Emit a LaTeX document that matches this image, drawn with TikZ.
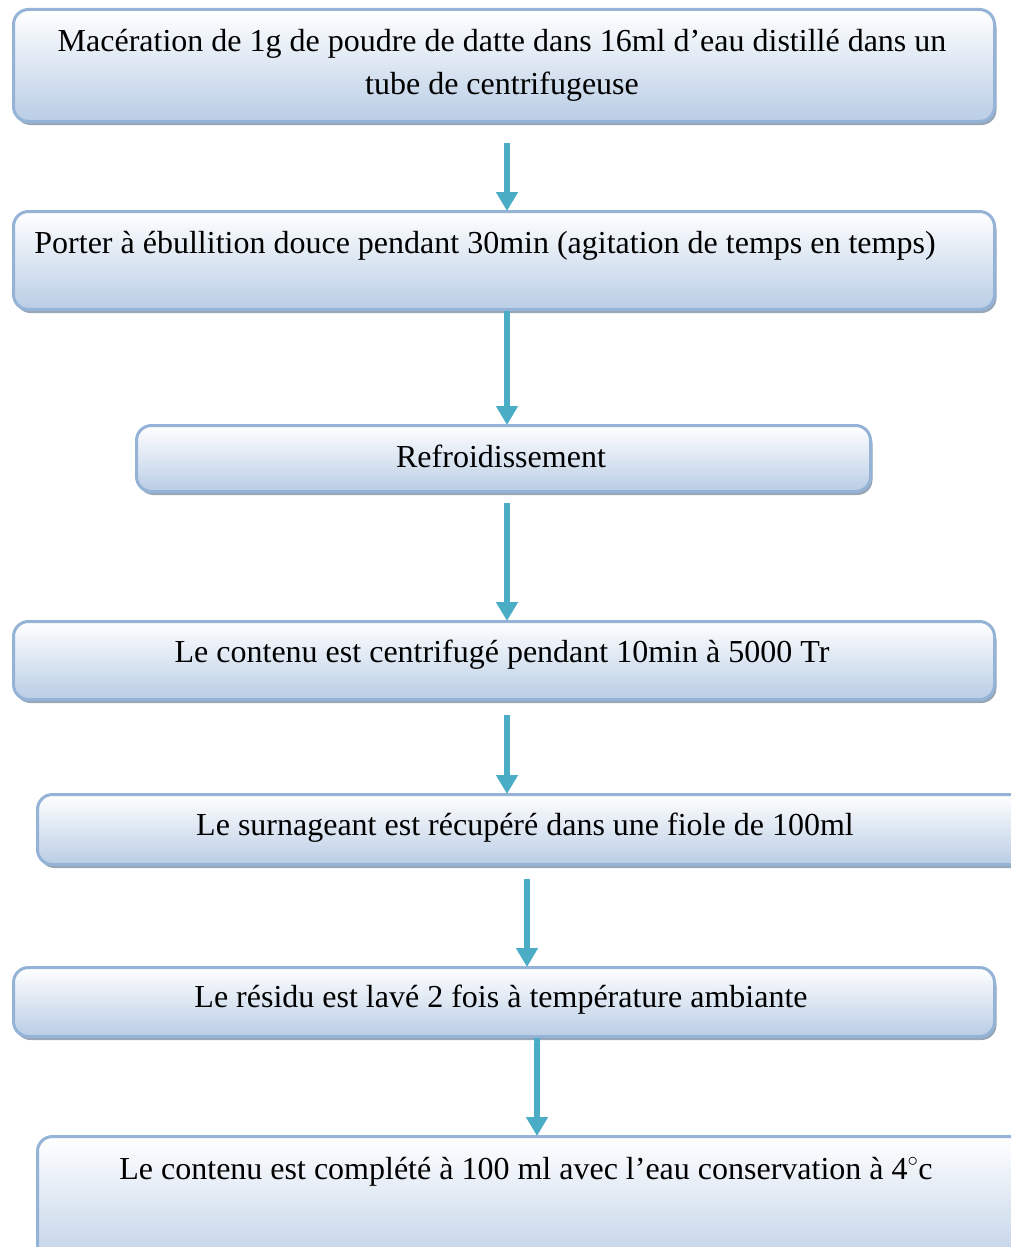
\documentclass[tikz,border=0pt]{standalone}
\usepackage{fontspec}
\setmainfont{Liberation Serif}
\usetikzlibrary{arrows.meta,shadows}
\definecolor{boxborder}{HTML}{95B3D7}
\definecolor{boxbottom}{HTML}{B9CDE5}
\definecolor{boxmiddle}{HTML}{D9E4F1}
\definecolor{arrowc}{HTML}{4BACC6}
\definecolor{shadowc}{HTML}{98A6B6}
\tikzset{
  stepbox/.style={draw=boxborder, line width=3pt, rounded corners=15pt,
    top color=white, middle color=boxmiddle, bottom color=boxbottom, inner sep=0pt,
    drop shadow={shadow xshift=2pt, shadow yshift=-3.5pt, fill=shadowc, opacity=1}},
  steptext/.style={font=\fontsize{32}{42}\selectfont, align=center, inner sep=0pt, anchor=base},
  flowarrow/.style={draw=arrowc, line width=6.5pt, -{Triangle[width=21pt,length=19pt]}, shorten >=-1pt}
}
\begin{document}
\begin{tikzpicture}[x=1pt,y=-1pt]
\useasboundingbox (0,0) rectangle (1011,1247);
% boxes: (left,top) to (right,bottom)
\path (12,8) node[stepbox, anchor=north west, minimum width=981pt, minimum height=112pt] (b1) {};
\path (12,210) node[stepbox, anchor=north west, minimum width=981pt, minimum height=98pt] (b2) {};
\path (135,424) node[stepbox, anchor=north west, minimum width=734pt, minimum height=66pt] (b3) {};
\path (12,620) node[stepbox, anchor=north west, minimum width=981pt, minimum height=78pt] (b4) {};
\path (36,793) node[stepbox, anchor=north west, minimum width=1000pt, minimum height=70pt] (b5) {};
\path (12,966) node[stepbox, anchor=north west, minimum width=981pt, minimum height=69pt] (b6) {};
\path (36,1135) node[stepbox, anchor=north west, minimum width=1000pt, minimum height=140pt] (b7) {};
% texts (positioned by baseline)
\node[steptext] (t1a) at (502,52) {Macération de 1g de poudre de datte dans 16ml d’eau distillé dans un};
\node[steptext] (t1b) at (502,94) {tube de centrifugeuse};
\node[steptext] (t2) at (485,253) {Porter à ébullition douce pendant 30min (agitation de temps en temps)};
\node[steptext] (t3) at (501,467) {Refroidissement};
\node[steptext] (t4) at (502,662) {Le contenu est centrifugé pendant 10min à 5000 Tr};
\node[steptext] (t5) at (525,835) {Le surnageant est récupéré dans une fiole de 100ml};
\node[steptext] (t6) at (501,1007) {Le résidu est lavé 2 fois à température ambiante};
\node[steptext] (t7) at (526,1179) {Le contenu est complété à 100 ml avec l’eau conservation à 4\raisebox{3pt}{$^\circ$}c};
% arrow axes
\coordinate (a1) at (507,0);
\coordinate (a5) at (527,0);
\coordinate (a6) at (537,0);
\draw[flowarrow, shorten <=20pt] (b1.south -| a1) -- (b2.north -| a1);
\draw[flowarrow] (b2.south -| a1) -- (b3.north -| a1);
\draw[flowarrow, shorten <=10pt] (b3.south -| a1) -- (b4.north -| a1);
\draw[flowarrow, shorten <=14pt] (b4.south -| a1) -- (b5.north -| a1);
\draw[flowarrow, shorten <=13pt] (b5.south -| a5) -- (b6.north -| a5);
\draw[flowarrow] (b6.south -| a6) -- (b7.north -| a6);
\end{tikzpicture}
\end{document}
